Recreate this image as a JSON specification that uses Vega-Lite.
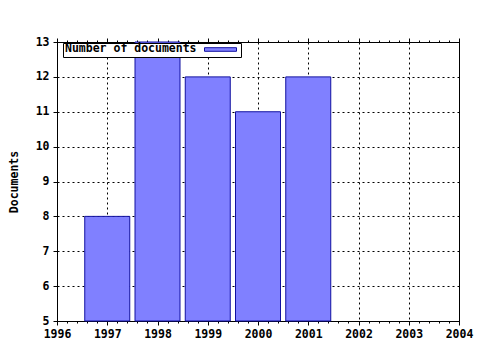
{
  "$schema": "https://vega.github.io/schema/vega-lite/v6.json",
  "width": 402,
  "height": 279,
  "autosize": {"type": "none"},
  "padding": {"left": 57, "top": 42, "right": 21, "bottom": 29},
  "background": "white",
  "config": {
    "font": "DejaVu Sans Mono",
    "view": {"stroke": "black", "strokeWidth": 1},
    "scale": {"continuousPadding": 0},
    "axis": {
      "labelFont": "DejaVu Sans Mono", "labelFontWeight": "bold", "labelFontSize": 11.5, "labelColor": "black",
      "titleFont": "DejaVu Sans Mono", "titleFontWeight": "bold", "titleFontSize": 11.5, "titleColor": "black",
      "domainColor": "black", "tickColor": "black", "tickSize": 4,
      "gridColor": "black", "gridDash": [2, 3], "gridOpacity": 1, "gridWidth": 1
    }
  },
  "data": {"values": [
    {"year": 1997, "docs": 8, "series": "Number of documents"},
    {"year": 1998, "docs": 13, "series": "Number of documents"},
    {"year": 1999, "docs": 12, "series": "Number of documents"},
    {"year": 2000, "docs": 11, "series": "Number of documents"},
    {"year": 2001, "docs": 12, "series": "Number of documents"}
  ]},
  "layer": [
    {
      "mark": {"type": "bar", "size": 45, "stroke": "#1010a0", "strokeWidth": 1},
      "encoding": {
        "x": {"field": "year", "type": "quantitative",
          "scale": {"domain": [1996, 2004], "nice": false, "zero": false, "padding": 0},
          "axis": {"orient": "bottom", "values": [1996, 1997, 1998, 1999, 2000, 2001, 2002, 2003, 2004], "format": "d", "title": null, "grid": true, "labelPadding": 3, "labelFlush": false}},
        "y": {"field": "docs", "type": "quantitative",
          "scale": {"domain": [5, 13], "nice": false, "zero": false},
          "axis": {"orient": "left", "values": [5, 6, 7, 8, 9, 10, 11, 12, 13], "title": "Documents", "grid": true, "labelPadding": 4, "titlePadding": 16}},
        "y2": {"datum": 5},
        "color": {"field": "series", "type": "nominal",
          "scale": {"range": ["#8080ff"]},
          "legend": {"orient": "none", "legendX": 6, "legendY": 1, "title": "Number of documents", "titleOrient": "left",
            "titleFont": "DejaVu Sans Mono", "titleFontWeight": "bold", "titleFontSize": 11.5, "titleColor": "black", "titleBaseline": "middle", "titlePadding": 19,
            "labelExpr": "''", "labelOffset": 4, "labelFontSize": 8,
            "symbolType": "M-4,-0.45H4V0.45H-4Z", "symbolSize": 64, "symbolStrokeColor": "#1010a0", "symbolStrokeWidth": 1, "symbolFillColor": "#8080ff",
            "strokeColor": "black", "fillColor": "white", "padding": 2, "cornerRadius": 0}}
      }
    },
    {
      "mark": {"type": "bar", "size": 45, "opacity": 0},
      "encoding": {
        "x": {"field": "year", "type": "quantitative",
          "axis": {"orient": "top", "values": [1996, 1997, 1998, 1999, 2000, 2001, 2002, 2003, 2004], "labels": false, "title": null, "grid": false}},
        "y": {"field": "docs", "type": "quantitative",
          "axis": {"orient": "right", "values": [5, 13], "ticks": false, "labels": false, "title": null, "grid": false}},
        "y2": {"datum": 5}
      }
    },
    {
      "mark": {"type": "bar", "size": 45, "opacity": 0},
      "encoding": {
        "x": {"field": "year", "type": "quantitative",
          "axis": {"orient": "top", "values": [1996.2, 1996.4, 1996.6, 1996.8, 1997.2, 1997.4, 1997.6, 1997.8, 1998.2, 1998.4, 1998.6, 1998.8, 1999.2, 1999.4, 1999.6, 1999.8, 2000.2, 2000.4, 2000.6, 2000.8, 2001.2, 2001.4, 2001.6, 2001.8, 2002.2, 2002.4, 2002.6, 2002.8, 2003.2, 2003.4, 2003.6, 2003.8], "tickSize": 2, "labels": false, "domain": false, "title": null, "grid": false}},
        "y": {"field": "docs", "type": "quantitative", "axis": null},
        "y2": {"datum": 5}
      }
    },
    {
      "mark": {"type": "bar", "size": 45, "opacity": 0},
      "encoding": {
        "x": {"field": "year", "type": "quantitative",
          "axis": {"orient": "bottom", "values": [1996.2, 1996.4, 1996.6, 1996.8, 1997.2, 1997.4, 1997.6, 1997.8, 1998.2, 1998.4, 1998.6, 1998.8, 1999.2, 1999.4, 1999.6, 1999.8, 2000.2, 2000.4, 2000.6, 2000.8, 2001.2, 2001.4, 2001.6, 2001.8, 2002.2, 2002.4, 2002.6, 2002.8, 2003.2, 2003.4, 2003.6, 2003.8], "tickSize": 2, "labels": false, "domain": false, "title": null, "grid": false}},
        "y": {"field": "docs", "type": "quantitative", "axis": null},
        "y2": {"datum": 5}
      }
    }
  ],
  "resolve": {"axis": {"x": "independent", "y": "independent"}}
}
